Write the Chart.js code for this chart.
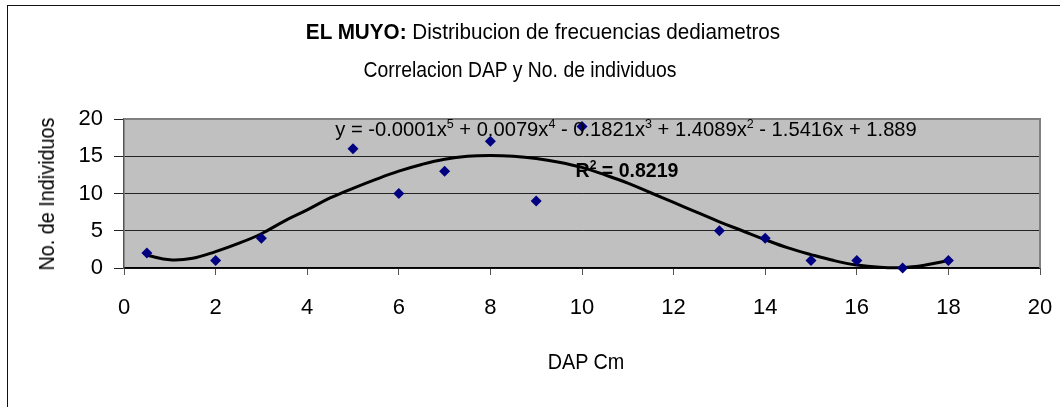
<!DOCTYPE html>
<html>
<head>
<meta charset="utf-8">
<script src="https://cdn.jsdelivr.net/npm/chart.js@4"></script>
<style>
  html, body { margin: 0; padding: 0; background: #fff; }
  #wrap { position: relative; width: 1060px; height: 407px; overflow: hidden; font-family: "Liberation Sans", Arial, sans-serif; }
  #frame { position: absolute; left: 7px; top: 5px; width: 1200px; height: 600px; border-left: 1.5px solid #111; border-top: 1.5px solid #111; }
  canvas { position: absolute; left: 0; top: 0; }
  .txt { position: absolute; white-space: nowrap; color: #000; font-size: 22px; line-height: 1; }
  sup { font-size: 0.62em; vertical-align: 0.6em; line-height: 0; }
</style>
</head>
<body>
<div id="wrap">
  <div id="frame"></div>
  <canvas id="c" width="1060" height="407"></canvas>
  <div class="txt" style="left:543px; top:32px; transform: translate(-50%, -50%) scaleX(0.94);"><b>EL MUYO:</b> Distribucion de frecuencias dediametros</div>
  <div class="txt" style="left:520px; top:70px; transform: translate(-50%, -50%) scaleX(0.88);">Correlacion DAP y No. de individuos</div>
  <div class="txt" style="left:626px; top:128px; font-size:21px; transform: translate(-50%, -50%) scaleX(0.96);">y = -0.0001x<sup>5</sup> + 0.0079x<sup>4</sup> - 0.1821x<sup>3</sup> + 1.4089x<sup>2</sup> - 1.5416x + 1.889</div>
  <div class="txt" style="left:627px; top:169px; font-size:21px; font-weight:bold; transform: translate(-50%, -50%) scaleX(0.93);">R<sup>2</sup> = 0.8219</div>
  <div class="txt" style="left:586px; top:362px; transform: translate(-50%, -50%) scaleX(0.9);">DAP Cm</div>
  <div class="txt" style="left:47px; top:194px; transform: translate(-50%, -50%) rotate(-90deg) scaleX(0.9);">No. de Individuos</div>
</div>
<script>
// Observed data: DAP (cm) class vs number of individuals
const dapValues = [0.5, 2, 3, 5, 6, 7, 8, 9, 10, 13, 14, 15, 16, 17, 18];
const individuals = [2, 1, 4, 16, 10, 13, 17, 9, 19, 5, 4, 1, 1, 0, 1];

// Trend line (polynomial, order 5)
const trendX = [0.5, 1, 1.5, 2, 2.5, 3, 3.5, 4, 4.5, 5, 5.5, 6, 6.5, 7, 7.5, 8, 8.5, 9, 9.5, 10, 10.5, 11, 11.5, 12, 12.5, 13, 13.5, 14, 14.5, 15, 15.5, 16, 16.5, 17, 17.5, 18];
const trendY = [1.7, 1.1, 1.3, 2.2, 3.3, 4.6, 6.3, 7.8, 9.4, 10.7, 11.9, 13.0, 13.9, 14.6, 15.0, 15.1, 15.0, 14.7, 14.2, 13.5, 12.5, 11.4, 10.1, 8.8, 7.5, 6.2, 5.0, 3.8, 2.7, 1.8, 1.0, 0.4, 0.1, 0.05, 0.4, 1.0];

const xTicks = [0, 2, 4, 6, 8, 10, 12, 14, 16, 18, 20];
const yTicks = [0, 5, 10, 15, 20];

const pts = dapValues.map((x, i) => ({ x: x, y: individuals[i] }));
const trend = trendX.map((x, i) => ({ x: x, y: trendY[i] }));

const plotBg = {
  id: 'plotBg',
  beforeDraw(chart) {
    const a = chart.chartArea, ctx = chart.ctx;
    ctx.save();
    ctx.fillStyle = '#C0C0C0';
    ctx.fillRect(a.left, a.top, a.right - a.left, a.bottom - a.top);
    ctx.restore();
  },
  beforeDatasetsDraw(chart) {
    const a = chart.chartArea, ctx = chart.ctx;
    ctx.save();
    ctx.strokeStyle = '#808080';
    ctx.lineWidth = 2;
    ctx.beginPath();
    ctx.moveTo(a.left, a.top);
    ctx.lineTo(a.right, a.top);
    ctx.lineTo(a.right, a.bottom);
    ctx.stroke();
    ctx.restore();
  }
};

const tickFont = { family: '"Liberation Sans Narrow", "Liberation Sans", Arial, sans-serif', size: 22 };

new Chart(document.getElementById('c'), {
  type: 'scatter',
  data: {
    datasets: [
      {
        data: pts,
        showLine: false,
        pointStyle: 'rectRot',
        pointRadius: 5.5,
        backgroundColor: '#000080',
        borderColor: '#000080',
        borderWidth: 0,
        clip: false,
        order: 0
      },
      {
        data: trend,
        showLine: true,
        pointRadius: 0,
        borderColor: '#000',
        borderWidth: 3,
        tension: 0.4,
        fill: false,
        clip: false,
        order: 1
      }
    ]
  },
  options: {
    responsive: false,
    animation: false,
    devicePixelRatio: 1,
    layout: { padding: { top: 119, right: 20, left: 0, bottom: 0 } },
    plugins: { legend: { display: false }, tooltip: { enabled: false }, title: { display: false } },
    scales: {
      x: {
        type: 'linear',
        min: 0, max: 20,
        afterBuildTicks(s) { s.ticks = xTicks.map(v => ({ value: v })); },
        afterFit(s) { s.height = 407 - 268; s.paddingRight = 0; s.paddingLeft = 0; },
        ticks: { color: '#000', font: tickFont, padding: 20, maxRotation: 0 },
        grid: { drawOnChartArea: false, drawTicks: true, tickLength: 7, color: '#555', lineWidth: 1 },
        border: { display: true, color: '#000', width: 1.5 }
      },
      y: {
        min: 0, max: 20,
        afterBuildTicks(s) { s.ticks = yTicks.map(v => ({ value: v })); },
        afterFit(s) { s.width = 124; s.paddingTop = 0; s.paddingBottom = 0; },
        ticks: { color: '#000', font: tickFont, padding: 11 },
        grid: { drawOnChartArea: true, drawTicks: true, tickLength: 10, color: '#222', lineWidth: 1 },
        border: { display: true, color: '#555', width: 1.5 }
      }
    }
  },
  plugins: [plotBg]
});
</script>
</body>
</html>
